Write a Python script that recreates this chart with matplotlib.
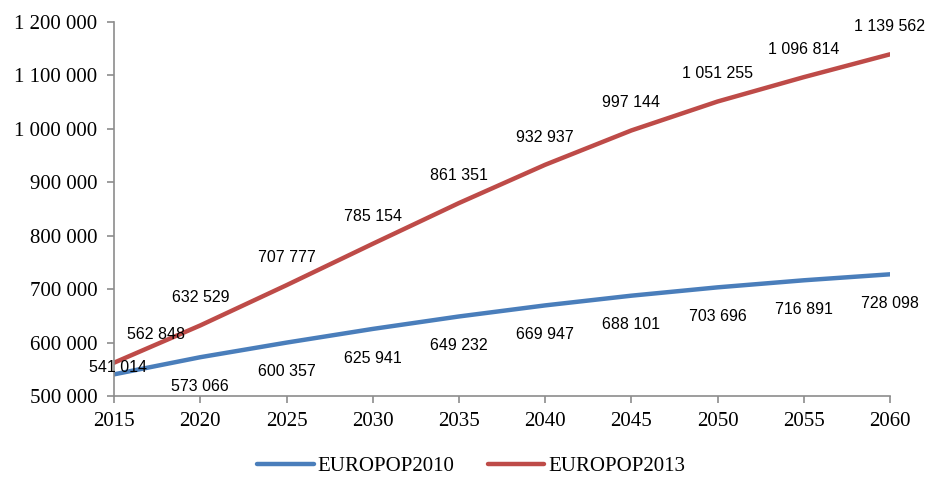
import matplotlib
matplotlib.use("Agg")
import matplotlib.pyplot as plt
from matplotlib.ticker import FuncFormatter

# data
anni = [2015, 2020, 2025, 2030, 2035, 2040, 2045, 2050, 2055, 2060]
europop2010 = [541014, 573066, 600357, 625941, 649232, 669947, 688101, 703696, 716891, 728098]
europop2013 = [562848, 632529, 707777, 785154, 861351, 932937, 997144, 1051255, 1096814, 1139562]

blu = "#4A7EBB"
rosso = "#BE4B48"
grigio = "#8C8C8C"

def fmt(v):
    return "{:,}".format(int(v)).replace(",", " ")

fig = plt.figure(figsize=(9.28, 4.78), dpi=100)
ax = fig.add_axes([0.123, 0.171, 0.836, 0.783])

ax.plot(anni, europop2010, color=blu, lw=3.2, solid_capstyle="round", label="EUROPOP2010")
ax.plot(anni, europop2013, color=rosso, lw=3.2, solid_capstyle="round", label="EUROPOP2013")

# etichette dei dati (offset in punti)
for i, (x, y) in enumerate(zip(anni, europop2010)):
    off = (3, 5) if i == 0 else (0, -21)
    ax.annotate(fmt(y), (x, y), xytext=off, textcoords="offset points",
                ha="center", va="center", fontsize=11.5, family="Liberation Sans",
                annotation_clip=False)
for i, (x, y) in enumerate(zip(anni, europop2013)):
    off = (30, 20) if i == 0 else (0, 20)
    ax.annotate(fmt(y), (x, y), xytext=off, textcoords="offset points",
                ha="center", va="center", fontsize=11.5, family="Liberation Sans",
                annotation_clip=False)

ax.set_xlim(2015, 2060)
ax.set_ylim(500000, 1200000)
ax.set_xticks(anni)
ax.set_yticks(range(500000, 1200001, 100000))
ax.yaxis.set_major_formatter(FuncFormatter(lambda v, p: fmt(v)))

for s in ["top", "right"]:
    ax.spines[s].set_visible(False)
for s in ["left", "bottom"]:
    ax.spines[s].set_color(grigio)
    ax.spines[s].set_linewidth(1.2)
ax.tick_params(axis="both", colors=grigio, length=5, width=1.2, labelcolor="black",
               labelsize=15)
ax.tick_params(axis="y", pad=7)
ax.tick_params(axis="x", pad=6)
for lab in ax.get_xticklabels() + ax.get_yticklabels():
    lab.set_family("Liberation Serif")

leg = fig.legend(loc="center", bbox_to_anchor=(0.508, 0.025), ncol=2, frameon=False,
                 prop={"family": "Liberation Serif", "size": 15}, handlelength=2.7,
                 columnspacing=1.6, handletextpad=0.2, borderpad=0)

plt.savefig("out.png", dpi=100)
